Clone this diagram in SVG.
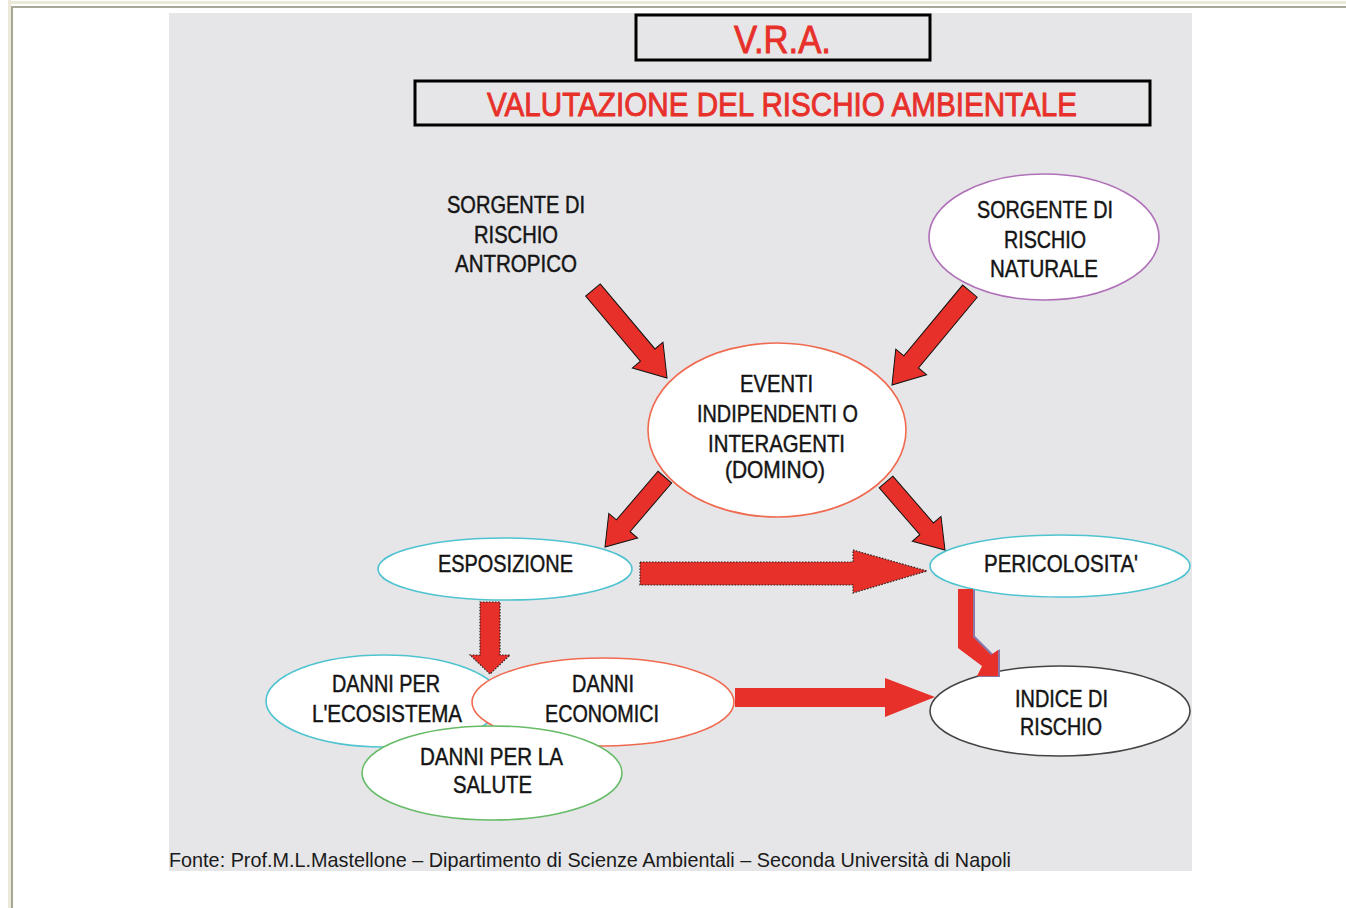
<svg xmlns="http://www.w3.org/2000/svg" width="1346" height="908" viewBox="0 0 1346 908">
<defs>
<style>
.lbl{font-family:"Liberation Sans",Arial,sans-serif;font-size:24px;fill:#141414;stroke:#141414;stroke-width:0.45;}
.ttl{font-family:"Liberation Sans",Arial,sans-serif;fill:#e8302a;stroke:#e8302a;stroke-width:0.9;}
.box{fill:none;stroke:#000;stroke-width:3;}
.node{fill:#fff;stroke-width:1.6;}
.arr{fill:#e8302a;stroke:#111;stroke-width:1;stroke-linejoin:miter;}
.dot{fill:#e8302a;stroke:#222;stroke-width:1.2;stroke-dasharray:1.5 1.5;}
.plain{fill:#e8302a;stroke:none;}
</style>
</defs>
<rect x="0" y="0" width="1346" height="908" fill="#fff"/>
<rect x="11" y="1" width="1335" height="3" fill="#ece9d8"/>
<rect x="8" y="0" width="3" height="908" fill="#ece9d8"/>
<rect x="11" y="6" width="1335" height="2" fill="#a8a898"/>
<rect x="11" y="6" width="2" height="902" fill="#a8a898"/>
<rect x="169" y="13" width="1023" height="858" fill="#e6e6e8"/>

<g id="title-vra">
<rect class="box" x="636" y="15" width="294" height="45"/>
<text class="ttl" x="734" y="53" font-size="39" textLength="97" lengthAdjust="spacingAndGlyphs">V.R.A.</text>
</g>
<g id="title-valutazione">
<rect class="box" x="415" y="81" width="735" height="44"/>
<text class="ttl" x="487" y="116" font-size="34" textLength="590" lengthAdjust="spacingAndGlyphs">VALUTAZIONE DEL RISCHIO AMBIENTALE</text>
</g>

<g id="n-antropico">
<text class="lbl" x="447" y="213" textLength="138" lengthAdjust="spacingAndGlyphs">SORGENTE DI</text>
<text class="lbl" x="474" y="243" textLength="84" lengthAdjust="spacingAndGlyphs">RISCHIO</text>
<text class="lbl" x="455" y="272" textLength="122" lengthAdjust="spacingAndGlyphs">ANTROPICO</text>
</g>

<g id="n-naturale">
<ellipse class="node" cx="1044" cy="237" rx="115" ry="63" stroke="#b070b8"/>
<text class="lbl" x="977" y="218" textLength="136" lengthAdjust="spacingAndGlyphs">SORGENTE DI</text>
<text class="lbl" x="1004" y="248" textLength="82" lengthAdjust="spacingAndGlyphs">RISCHIO</text>
<text class="lbl" x="990" y="277" textLength="108" lengthAdjust="spacingAndGlyphs">NATURALE</text>
</g>

<g id="n-eventi">
<ellipse class="node" cx="777" cy="430" rx="129" ry="87" stroke="#f06a50"/>
<text class="lbl" x="740" y="392" textLength="73" lengthAdjust="spacingAndGlyphs">EVENTI</text>
<text class="lbl" x="697" y="422" textLength="161" lengthAdjust="spacingAndGlyphs">INDIPENDENTI O</text>
<text class="lbl" x="708" y="452" textLength="137" lengthAdjust="spacingAndGlyphs">INTERAGENTI</text>
<text class="lbl" x="725" y="478" textLength="100" lengthAdjust="spacingAndGlyphs">(DOMINO)</text>
</g>

<g id="n-esposizione">
<ellipse class="node" cx="505" cy="569" rx="127" ry="31" stroke="#4fc3d0"/>
<text class="lbl" x="438" y="572" textLength="135" lengthAdjust="spacingAndGlyphs">ESPOSIZIONE</text>
</g>

<g id="n-pericolosita">
<ellipse class="node" cx="1060" cy="566" rx="130" ry="31" stroke="#4fc3d0"/>
<text class="lbl" x="984" y="572" textLength="154" lengthAdjust="spacingAndGlyphs">PERICOLOSITA'</text>
</g>

<g id="n-indice">
<ellipse class="node" cx="1060" cy="711" rx="130" ry="45" stroke="#444"/>
<text class="lbl" x="1015" y="707" textLength="93" lengthAdjust="spacingAndGlyphs">INDICE DI</text>
<text class="lbl" x="1020" y="735" textLength="82" lengthAdjust="spacingAndGlyphs">RISCHIO</text>
</g>

<g id="n-ecosistema">
<ellipse class="node" cx="384" cy="701" rx="118" ry="46" stroke="#4fc3d0"/>
<text class="lbl" x="332" y="692" textLength="108" lengthAdjust="spacingAndGlyphs">DANNI PER</text>
<text class="lbl" x="312" y="722" textLength="150" lengthAdjust="spacingAndGlyphs">L'ECOSISTEMA</text>
</g>

<g id="n-economici">
<ellipse class="node" cx="603" cy="702" rx="131" ry="44" stroke="#f06a50"/>
<text class="lbl" x="572" y="692" textLength="62" lengthAdjust="spacingAndGlyphs">DANNI</text>
<text class="lbl" x="545" y="722" textLength="114" lengthAdjust="spacingAndGlyphs">ECONOMICI</text>
</g>

<g id="n-salute">
<ellipse class="node" cx="492" cy="773" rx="130" ry="47" stroke="#66bb66"/>
<text class="lbl" x="420" y="765" textLength="143" lengthAdjust="spacingAndGlyphs">DANNI PER LA</text>
<text class="lbl" x="453" y="793" textLength="79" lengthAdjust="spacingAndGlyphs">SALUTE</text>
</g>

<g id="connectors">
<polygon class="arr" points="-115,-9.5 -30,-9.5 -30,-20 0,0 -30,20 -30,9.5 -115,9.5" transform="translate(667,378) rotate(49.9)"/>
<polygon class="arr" points="-122,-9.5 -30,-9.5 -30,-20 0,0 -30,20 -30,9.5 -122,9.5" transform="translate(892,385) rotate(129.7)"/>
<polygon class="arr" points="-92,-9 -28,-9 -28,-19 0,0 -28,19 -28,9 -92,9" transform="translate(605,547) rotate(130.6)"/>
<polygon class="arr" points="-90,-9 -28,-9 -28,-19 0,0 -28,19 -28,9 -90,9" transform="translate(945,550) rotate(49.05)"/>
<polygon class="dot" points="640,562 853,562 853,550 927,571 853,593 853,585 640,585"/>
<polygon class="dot" points="480,602 500,602 500,655 510,655 490,674 470,655 480,655"/>
<polygon class="plain" points="735,688 885,688 885,678 935,697 885,717 885,707 735,707"/>
<polygon fill="#8a78a8" points="960,590 975,590 975,636 993,654 1000,649 1000,677 979,677 984,667 960,649"/>
<polygon class="plain" points="958,589 973,589 973,637 991,655 998,650 998,676 977,676 982,666 958,648"/>
</g>

<text x="169" y="867" font-family="'Liberation Sans',Arial,sans-serif" font-size="21" fill="#1a1a1a" textLength="842" lengthAdjust="spacingAndGlyphs">Fonte: Prof.M.L.Mastellone – Dipartimento di Scienze Ambientali – Seconda Università di Napoli</text>
</svg>
